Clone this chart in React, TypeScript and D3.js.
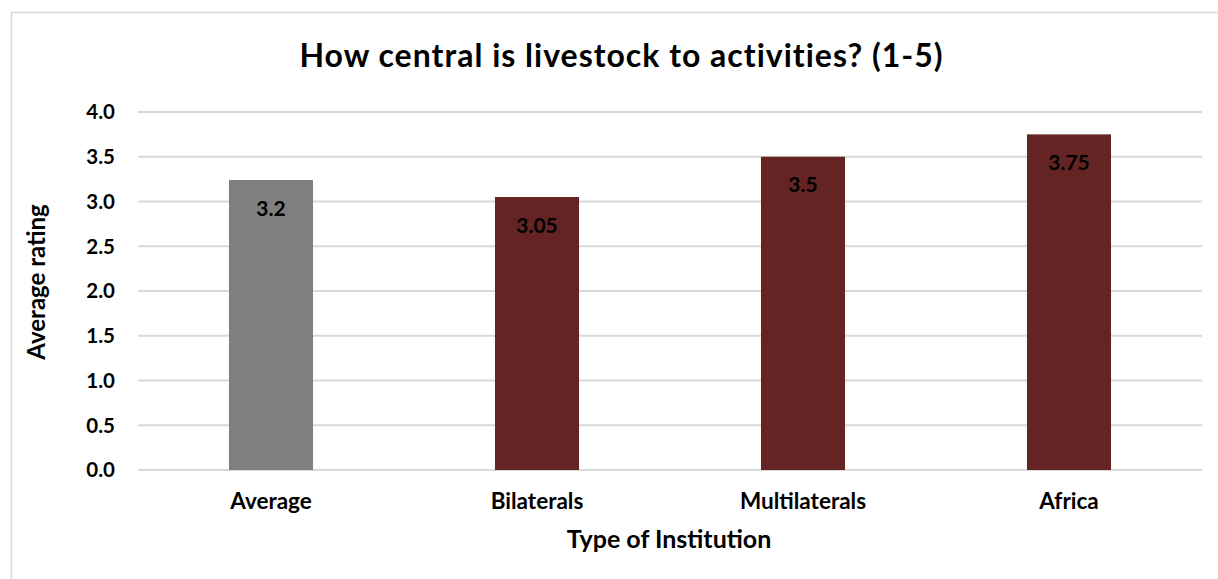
import React from "react";
import * as d3 from "d3";

const categories = ["Average", "Bilaterals", "Multilaterals", "Africa"];
const values = [3.24, 3.05, 3.5, 3.75];
const valueLabels = ["3.2", "3.05", "3.5", "3.75"];
const yTicks = [0, 0.5, 1, 1.5, 2, 2.5, 3, 3.5, 4];
const title = "How central is livestock to activities? (1-5)";
const xTitle = "Type of Institution";
const yTitle = "Average rating";

const W = 1218;
const H = 579;
const FONT = "Lato, 'Open Sans', sans-serif";

export default function App() {
  const x = d3.scaleBand<string>().domain(categories).range([138, 1202]).paddingInner(0.684).paddingOuter(0.342);
  const y = d3.scaleLinear().domain([0, 4]).range([470, 112]);
  return (
    <svg width={W} height={H} style={{ position: "absolute", left: 0, top: 0, background: "#fff" }}>
      <rect x={11.5} y={12.5} width={W} height={H} fill="#fff" stroke="#d9d9d9" strokeWidth={1.5} />
      <text x={621.5} y={67} textAnchor="middle" fontFamily={FONT} fontWeight="bold" fontSize={32} letterSpacing={1} fill="#000">
        {title}
      </text>
      {yTicks.map((t) => (
        <g key={t}>
          <line x1={138} x2={1202} y1={y(t)} y2={y(t)} stroke="#d9d9d9" strokeWidth={2} />
          <text x={115} y={y(t)} dy="0.36em" textAnchor="end" fontFamily={FONT} fontWeight="bold" fontSize={20.5} fill="#000">
            {t.toFixed(1)}
          </text>
        </g>
      ))}
      {categories.map((c, i) => (
        <g key={c}>
          <rect x={x(c)} y={y(values[i])} width={x.bandwidth()} height={y(0) - y(values[i])} fill={i === 0 ? "#7f7f7f" : "#632423"} />
          <text x={(x(c) as number) + x.bandwidth() / 2} y={y(values[i]) + 28} dy="0.36em" textAnchor="middle" fontFamily={FONT} fontWeight="bold" fontSize={21} fill="#000">
            {valueLabels[i]}
          </text>
          <text x={(x(c) as number) + x.bandwidth() / 2} y={509} textAnchor="middle" fontFamily={FONT} fontWeight="bold" fontSize={22.5} fill="#000">
            {c}
          </text>
        </g>
      ))}
      <text x={669} y={548} textAnchor="middle" fontFamily={FONT} fontWeight="bold" fontSize={25} fill="#000">
        {xTitle}
      </text>
      <text transform="translate(45,282) rotate(-90)" textAnchor="middle" fontFamily={FONT} fontWeight="bold" fontSize={24} fill="#000">
        {yTitle}
      </text>
    </svg>
  );
}
